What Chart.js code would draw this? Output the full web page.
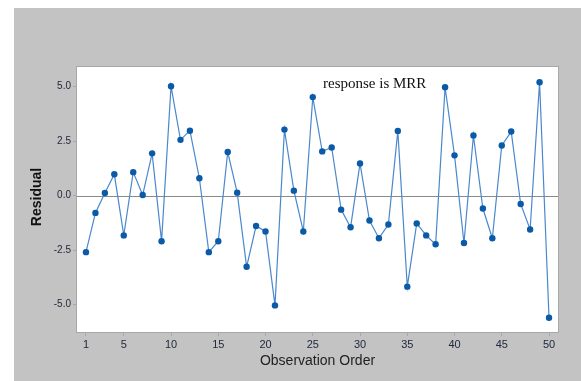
<!DOCTYPE html>
<html>
<head>
<meta charset="utf-8">
<script src="https://cdn.jsdelivr.net/npm/chart.js@4/dist/chart.umd.min.js"></script>
<style>
  html, body { margin: 0; padding: 0; background: #ffffff; }
  #wrap { width: 581px; height: 381px; position: relative; }
</style>
</head>
<body>
<div id="wrap"><canvas id="c" width="581" height="381"></canvas></div>
<script>
const observations = [1,2,3,4,5,6,7,8,9,10,11,12,13,14,15,16,17,18,19,20,21,22,23,24,25,26,27,28,29,30,31,32,33,34,35,36,37,38,39,40,41,42,43,44,45,46,47,48,49,50];
const residuals = [-2.59,-0.79,0.12,0.98,-1.82,1.08,0.03,1.94,-2.09,5.02,2.56,2.98,0.80,-2.59,-2.09,2.00,0.14,-3.26,-1.39,-1.64,-5.03,3.03,0.23,-1.64,4.52,2.03,2.21,-0.64,-1.45,1.48,-1.14,-1.95,-1.32,2.97,-4.17,-1.27,-1.82,-2.23,4.97,1.85,-2.17,2.76,-0.59,-1.95,2.30,2.94,-0.38,-1.55,5.20,-5.60];
const xTicks = [1,5,10,15,20,25,30,35,40,45,50];
const yTicks = [-5.0,-2.5,0.0,2.5,5.0];
const annotationText = 'response is MRR';
const xTitle = 'Observation Order';
const yTitle = 'Residual';

const points = observations.map((o, i) => ({ x: o, y: residuals[i] }));

const framePlugin = {
  id: 'frame',
  beforeDraw(chart) {
    const ctx = chart.ctx, a = chart.chartArea;
    ctx.save();
    ctx.fillStyle = '#ffffff';
    ctx.fillRect(0, 0, chart.width, chart.height);
    ctx.fillStyle = '#c3c3c3';
    ctx.fillRect(14, 8, chart.width - 14, chart.height - 8);
    ctx.fillStyle = '#ffffff';
    ctx.fillRect(a.left, a.top, a.right - a.left, a.bottom - a.top);
    ctx.restore();
  },
  beforeDatasetsDraw(chart) {
    const ctx = chart.ctx, a = chart.chartArea;
    const y0 = chart.scales.y.getPixelForValue(0);
    ctx.save();
    ctx.strokeStyle = '#8a8a8a';
    ctx.lineWidth = 1;
    ctx.beginPath();
    ctx.moveTo(a.left, Math.round(y0) + 0.5);
    ctx.lineTo(a.right, Math.round(y0) + 0.5);
    ctx.stroke();
    ctx.strokeStyle = '#a8a8a8';
    ctx.strokeRect(Math.round(a.left) - 0.5, Math.round(a.top) - 0.5, Math.round(a.right - a.left) + 1, Math.round(a.bottom - a.top) + 1);
    ctx.restore();
  },
  afterDraw(chart) {
    const ctx = chart.ctx, a = chart.chartArea;
    ctx.save();
    ctx.fillStyle = '#111111';
    ctx.font = '15px "Liberation Serif", "Times New Roman", serif';
    ctx.textAlign = 'left';
    ctx.textBaseline = 'middle';
    ctx.fillText(annotationText, 323, 84);
    ctx.font = '14px "Liberation Sans", Arial, sans-serif';
    ctx.fillStyle = '#222222';
    ctx.textAlign = 'center';
    ctx.fillText(xTitle, (a.left + a.right) / 2, 361);
    ctx.translate(37.5, 197);
    ctx.rotate(-Math.PI / 2);
    ctx.font = 'bold 14px "Liberation Sans", Arial, sans-serif';
    ctx.fillStyle = '#111111';
    ctx.fillText(yTitle, 0, 0);
    ctx.restore();
  }
};

new Chart(document.getElementById('c'), {
  type: 'line',
  data: {
    datasets: [{
      data: points,
      borderColor: '#4a88cc',
      borderWidth: 1.2,
      pointBackgroundColor: '#0a5aa8',
      pointBorderColor: '#0a5aa8',
      pointRadius: 3.2,
      pointBorderWidth: 0,
      tension: 0,
      fill: false
    }]
  },
  options: {
    responsive: false,
    animation: false,
    devicePixelRatio: 1,
    layout: { padding: { left: 0, top: 67, right: 23, bottom: 0 } },
    plugins: { legend: { display: false }, tooltip: { enabled: false }, title: { display: false } },
    scales: {
      x: {
        type: 'linear',
        min: 0.05,
        max: 50.95,
        afterBuildTicks(scale) { scale.ticks = xTicks.map(v => ({ value: v })); },
        afterFit(scale) { scale.height = 49; },
        grid: { display: true, drawOnChartArea: false, drawTicks: true, tickLength: 4, color: '#a8a8a8' },
        border: { display: false },
        ticks: { font: { size: 11, family: '"Liberation Sans", Arial, sans-serif' }, color: '#222a3a', padding: 2, maxRotation: 0, autoSkip: false }
      },
      y: {
        type: 'linear',
        min: -6.25,
        max: 5.9,
        afterBuildTicks(scale) { scale.ticks = yTicks.map(v => ({ value: v })); },
        afterFit(scale) { scale.width = 77; },
        grid: { display: true, drawOnChartArea: false, drawTicks: true, tickLength: 4, color: '#a8a8a8' },
        border: { display: false },
        ticks: { font: { size: 10, family: '"Liberation Sans", Arial, sans-serif' }, color: '#222a3a', padding: 2, callback: v => v.toFixed(1) }
      }
    }
  },
  plugins: [framePlugin]
});
</script>
</body>
</html>
